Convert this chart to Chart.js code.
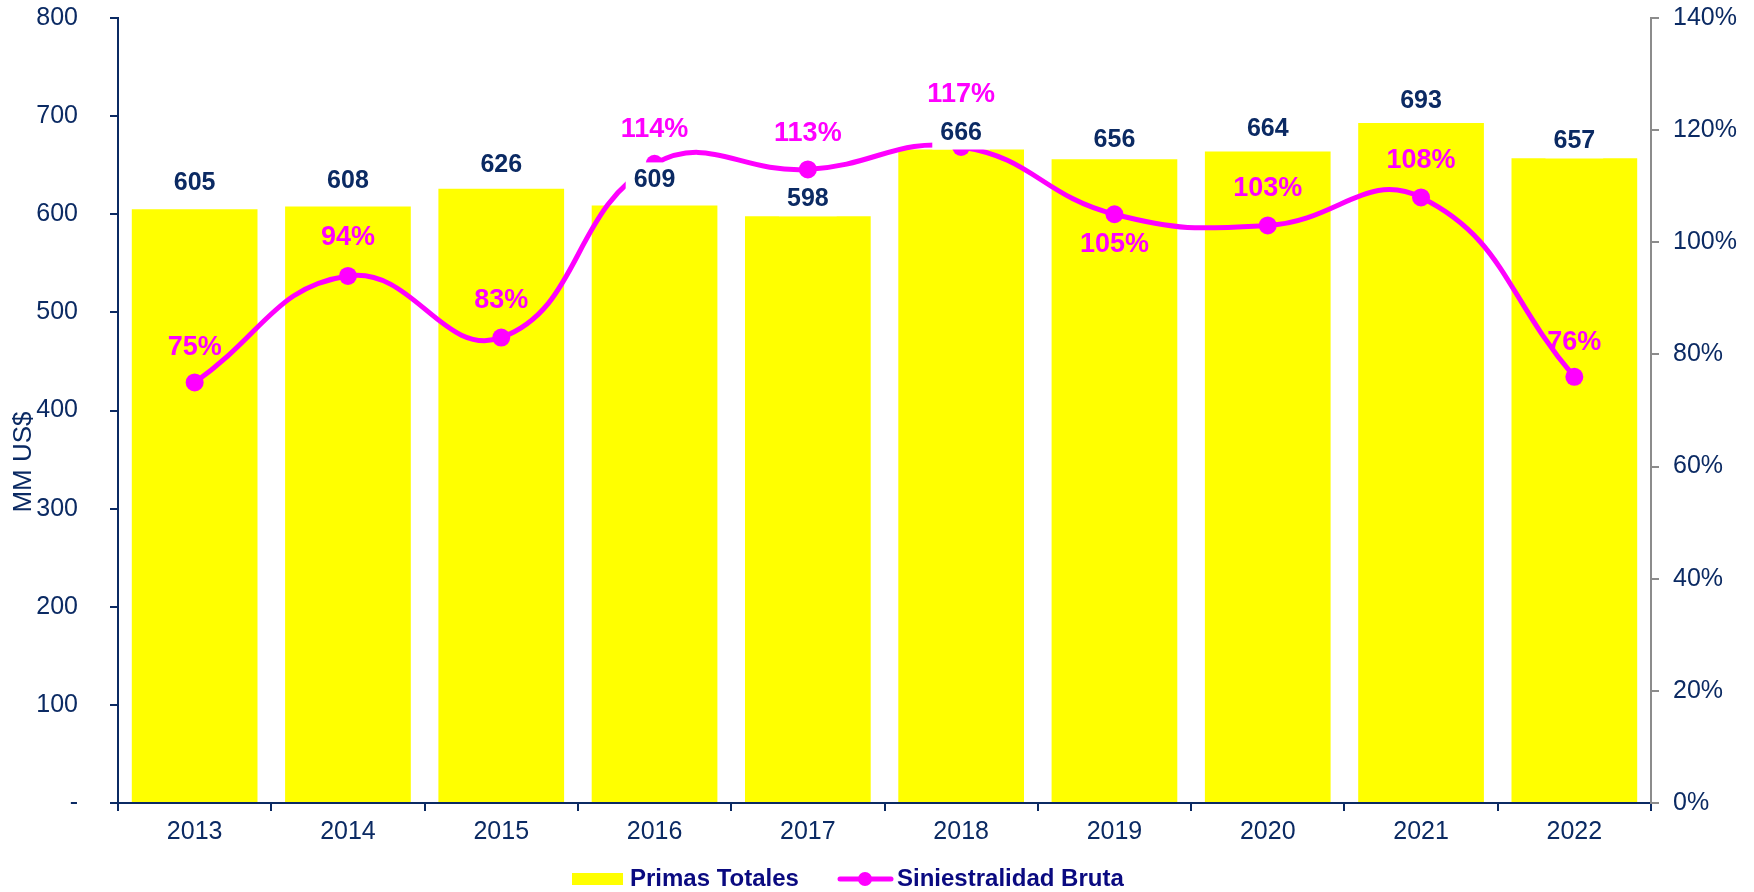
<!DOCTYPE html>
<html>
<head>
<meta charset="utf-8">
<script src="https://cdn.jsdelivr.net/npm/chart.js@4.4.0/dist/chart.umd.min.js"></script>
<style>
  body { margin: 0; background: #fff; }
  canvas { display: block; }
</style>
</head>
<body>
<canvas id="chart" width="1754" height="892"></canvas>
<script>
// Datos del gráfico
const years = ['2013', '2014', '2015', '2016', '2017', '2018', '2019', '2020', '2021', '2022'];
const primasTotales = [605, 608, 626, 609, 598, 666, 656, 664, 693, 657];          // MM US$
const siniestralidad = [75, 94, 83, 114, 113, 117, 105, 103, 108, 76];             // %
const leftTicks = [0, 100, 200, 300, 400, 500, 600, 700, 800];
const rightTicks = [0, 20, 40, 60, 80, 100, 120, 140];

const NAVY = '#0b2a63';
const LEGEND_NAVY = '#0a0a80';
const YELLOW = '#ffff00';
const MAGENTA = '#ff00ff';
const FONT = '"Liberation Sans", Arial, sans-serif';

// separación (px) de las etiquetas respecto a la barra / al punto
const barLabelGap = [26, 25, 24, 25, 17, 16, 19, 22, 22, 17];
const lineLabelGap = [-35, -38, -37, -34, -36, -52, 30, -37, -37, -34];

const labelsPlugin = {
    id: 'labels',
    afterDatasetsDraw(chart) {
        const ctx = chart.ctx;
        ctx.save();
        ctx.textAlign = 'center';
        ctx.textBaseline = 'middle';

        // etiquetas de barras con fondo blanco
        ctx.font = 'bold 25px ' + FONT;
        chart.getDatasetMeta(0).data.forEach((bar, i) => {
            const txt = String(primasTotales[i]);
            const w = ctx.measureText(txt).width;
            const y = bar.y - barLabelGap[i];
            ctx.fillStyle = '#fff';
            const top = y - 18;
            ctx.fillRect(bar.x - w / 2 - 8, top, w + 16, Math.min(36, bar.y - top));
            ctx.fillStyle = NAVY;
            ctx.fillText(txt, bar.x, y);
        });

        // etiquetas de la línea
        ctx.font = 'bold 27px ' + FONT;
        ctx.fillStyle = MAGENTA;
        chart.getDatasetMeta(1).data.forEach((pt, i) => {
            ctx.fillText(siniestralidad[i] + '%', pt.x, pt.y + lineLabelGap[i]);
        });

        // título eje Y
        ctx.save();
        ctx.translate(24, 462);
        ctx.rotate(-Math.PI / 2);
        ctx.font = '26px ' + FONT;
        ctx.fillStyle = NAVY;
        ctx.fillText('MM US$', 0, 0);
        ctx.restore();

        // leyenda
        ctx.font = 'bold 24px ' + FONT;
        ctx.textAlign = 'left';
        const ly = 879;
        ctx.fillStyle = YELLOW;
        ctx.fillRect(572, ly - 6, 51, 12);
        ctx.fillStyle = LEGEND_NAVY;
        ctx.fillText('Primas Totales', 630, ly);
        ctx.strokeStyle = MAGENTA;
        ctx.lineWidth = 5;
        ctx.lineCap = 'round';
        ctx.beginPath();
        ctx.moveTo(840, ly);
        ctx.lineTo(891, ly);
        ctx.stroke();
        ctx.fillStyle = MAGENTA;
        ctx.beginPath();
        ctx.arc(865, ly, 7, 0, Math.PI * 2);
        ctx.fill();
        ctx.fillStyle = LEGEND_NAVY;
        ctx.fillText('Siniestralidad Bruta', 897, ly);
        ctx.restore();
    }
};

const fitY = (width) => (s) => {
    s.width = width;
    s.paddingTop = 0;
    s.paddingBottom = 0;
};

const ctx = document.getElementById('chart').getContext('2d');
new Chart(ctx, {
    data: {
        labels: years,
        datasets: [
            {
                type: 'bar',
                label: 'Primas Totales',
                data: primasTotales,
                backgroundColor: YELLOW,
                barPercentage: 0.82,
                categoryPercentage: 1.0,
                yAxisID: 'y',
                order: 2
            },
            {
                type: 'line',
                label: 'Siniestralidad Bruta',
                data: siniestralidad,
                borderColor: MAGENTA,
                backgroundColor: MAGENTA,
                borderWidth: 5,
                pointRadius: 9,
                pointBorderWidth: 0,
                tension: 0.45,
                yAxisID: 'y1',
                order: 1
            }
        ]
    },
    options: {
        responsive: false,
        animation: false,
        layout: { padding: { top: 18, left: 0, right: 0, bottom: 0 } },
        plugins: {
            legend: { display: false },
            tooltip: { enabled: false }
        },
        scales: {
            x: {
                offset: true,
                grid: { offset: true, drawOnChartArea: false, drawTicks: true, tickLength: 8, color: NAVY, lineWidth: 2 },
                border: { color: NAVY, width: 2 },
                ticks: { color: NAVY, font: { family: FONT, size: 25 }, padding: 6, maxRotation: 0 },
                afterFit: (s) => { s.height = 89; }
            },
            y: {
                position: 'left',
                min: 0,
                max: 800,
                afterBuildTicks: (s) => { s.ticks = leftTicks.map(v => ({ value: v })); },
                grid: { drawOnChartArea: false, drawTicks: true, tickLength: 8, color: NAVY, lineWidth: 2 },
                border: { color: NAVY, width: 2 },
                ticks: {
                    color: NAVY,
                    font: { family: FONT, size: 25 },
                    padding: 32,
                    callback: (v) => v === 0 ? '-' : v
                },
                afterFit: fitY(118)
            },
            y1: {
                position: 'right',
                min: 0,
                max: 140,
                afterBuildTicks: (s) => { s.ticks = rightTicks.map(v => ({ value: v })); },
                grid: { drawOnChartArea: false, drawTicks: true, tickLength: 8, color: '#8c8c8c', lineWidth: 2 },
                border: { color: '#8c8c8c', width: 2 },
                ticks: {
                    color: NAVY,
                    font: { family: FONT, size: 25 },
                    padding: 14,
                    callback: (v) => v + '%'
                },
                afterFit: fitY(103)
            }
        }
    },
    plugins: [labelsPlugin]
});
</script>
</body>
</html>
